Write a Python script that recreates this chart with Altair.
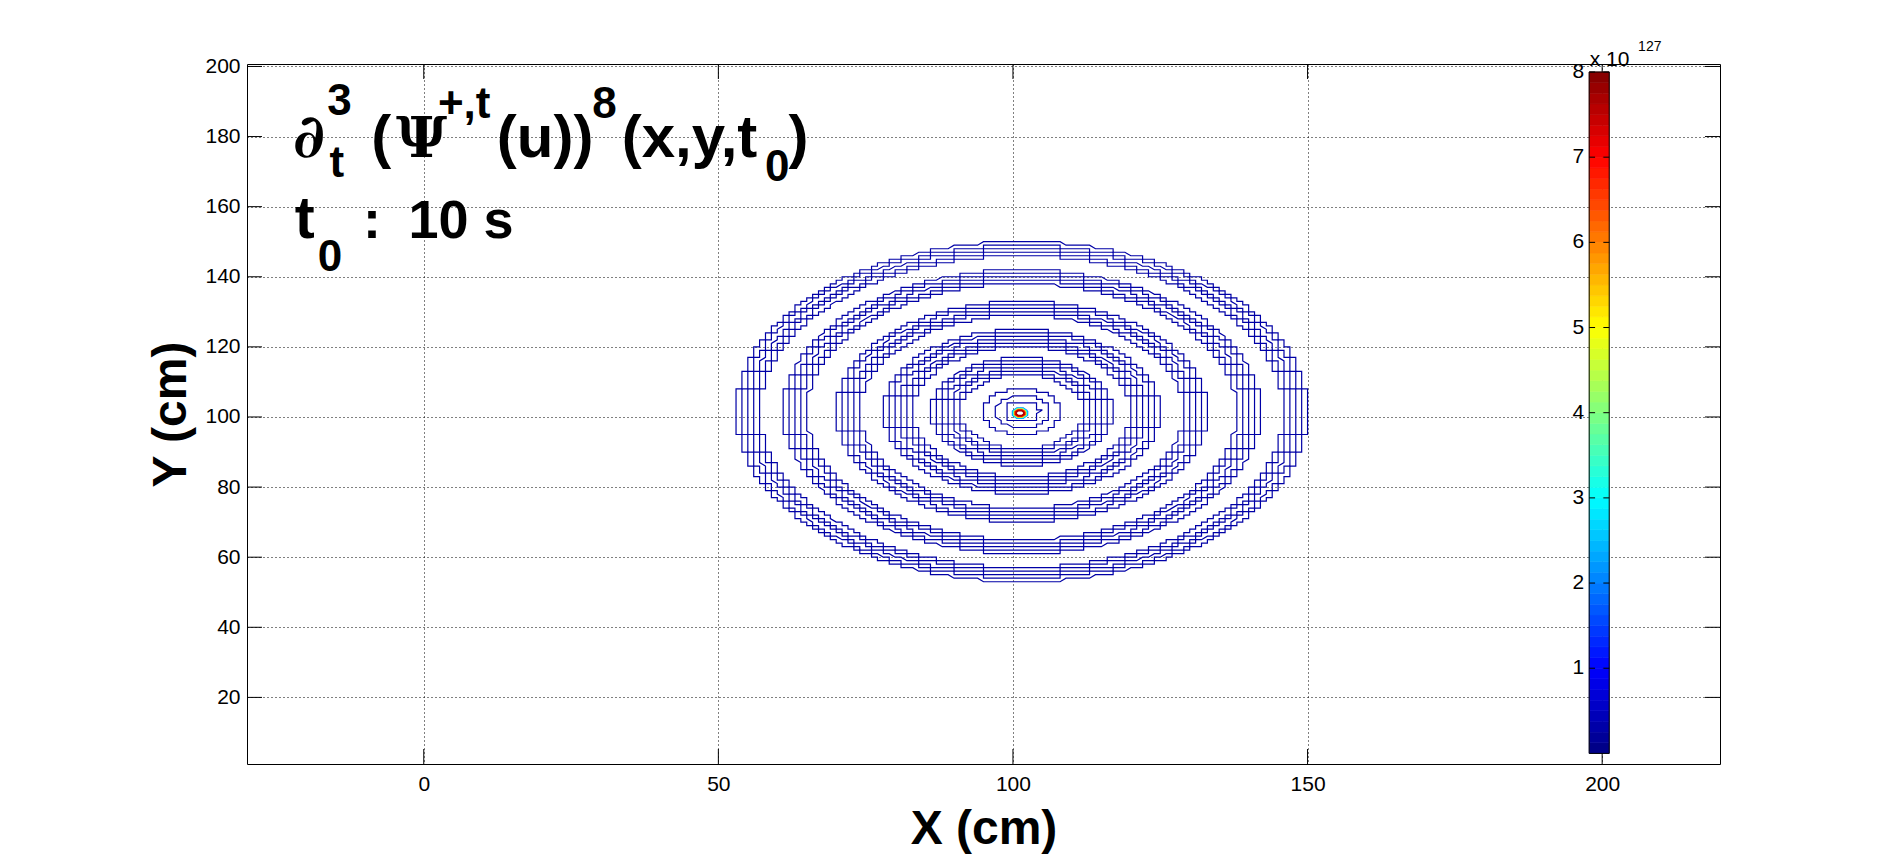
import altair as alt
import numpy as np
import pandas as pd

# ---------------- axes ----------------
X_DOMAIN = [-30, 220]
Y_DOMAIN = [1, 200.7]
X_TICKS = [0, 50, 100, 150, 200]
Y_TICKS = [20, 40, 60, 80, 100, 120, 140, 160, 180, 200]

# ---------------- contour rings ----------------
CENTER_X = 101.5
CENTER_Y = 101.5
BAND1 = [48.5, 47.5, 46.5, 45.5, 44.5]
BAND2 = [40.5, 39.5, 38.5, 37.5, 36.5]
BAND3 = [31.5, 30.5, 29.5, 28.5, 27.5]
BAND4 = [23.5, 22.5, 21.5, 20.5, 19.5, 18.5]
BAND5 = [15.5, 14.5, 13.5, 12.5, 11.5, 10.5]
BAND6 = [6.5, 4.5, 3.0]
RING_LEVEL = 0.3  # x 10^127

# peak contours at the centre
PEAK_X = 101.2
PEAK_Y = 101.1
PEAK_RX = [1.35, 1.2, 1.05, 0.95, 0.85, 0.7]
PEAK_RY = [1.5, 1.35, 1.2, 1.05, 0.95, 0.8]
PEAK_LEVELS = [2.0, 3.0, 4.4, 5.6, 6.8, 7.6]

# ---------------- colour bar ----------------
CB_MIN = 0.0
CB_MAX = 8.0
CB_STEPS = 64
CB_TICKS = [1, 2, 3, 4, 5, 6, 7, 8]
CB_X0 = 197.8
CB_X1 = 201.2
JET_DOMAIN = [0, 1, 3, 5, 7, 8]
JET_COLORS = ["#000080", "#0000ff", "#00ffff", "#ffff00", "#ff0000", "#800000"]

# ---------------- title pieces ----------------
SANS_TEXT = ["3", "t", "(", "+,t", "(u))", "8", "(x,y,t", "0", ")",
             "t", "0", ":", "10 s"]
SANS_X = [-16.4, -16.0, -8.9, 2.4, 12.4, 28.6, 33.6, 57.9, 61.9,
          -21.9, -18.0, -10.3, -2.6]
SANS_Y = [186.2, 168.6, 174.2, 185.3, 174.2, 185.3, 174.2, 167.4, 174.2,
          151.1, 141.7, 151.1, 151.1]
SANS_SIZE = [44, 44, 60, 44, 60, 44, 60, 44, 60,
             60, 44, 54, 54]
SERIF_TEXT = ["∂", "Ψ"]
SERIF_X = [-22.2, -4.7]
SERIF_Y = [174.2, 174.2]
SERIF_SIZE = [60, 56]

W, H = 1473, 700

# ---------------- build tables ----------------
def ring_points(cx, cy, rx, ry, snap, n=None):
    if n is None:
        n = int(max(64, np.ceil(2 * np.pi * max(rx, ry) * 8)))
    t = np.linspace(0, 2 * np.pi, n, endpoint=False)
    if not snap:
        t = t + np.pi / n
    xs = cx + rx * np.cos(t)
    ys = cy + ry * np.sin(t)
    if snap:
        xs = np.round(xs + 1e-9)
        ys = np.round(ys + 1e-9)
    pts = []
    for a, b in zip(xs, ys):
        if not pts or (a, b) != pts[-1]:
            pts.append((float(a), float(b)))
    if len(pts) > 1 and pts[0] == pts[-1]:
        pts.pop()
    pts.append(pts[0])
    return pts

rows = []
rid = 0
for band in [BAND1, BAND2, BAND3, BAND4, BAND5, BAND6]:
    for r in band:
        for k, (a, b) in enumerate(ring_points(CENTER_X, CENTER_Y, r, r, True)):
            rows.append({"ring": rid, "ord": k, "x": a, "y": b, "level": RING_LEVEL})
        rid += 1
rings = pd.DataFrame(rows)

prow = []
for rx, ry, lv in zip(PEAK_RX, PEAK_RY, PEAK_LEVELS):
    for k, (a, b) in enumerate(ring_points(PEAK_X, PEAK_Y, rx, ry, False, n=8)):
        prow.append({"ring": rid, "ord": k, "x": a, "y": b, "level": lv})
    rid += 1
peaks = pd.DataFrame(prow)

xs = alt.Scale(domain=X_DOMAIN, nice=False, zero=False)
ys = alt.Scale(domain=Y_DOMAIN, nice=False, zero=False)
jet = alt.Scale(domain=JET_DOMAIN, range=JET_COLORS, interpolate="rgb")
cbs = alt.Scale(domain=[CB_MIN, CB_MAX], range=[689.4, 8.0], nice=False, zero=False)

x_axis = alt.Axis(values=X_TICKS, title="X (cm)", labelPadding=9, titlePadding=11,
                  format="d")
y_axis = alt.Axis(values=Y_TICKS, title="Y (cm)", labelPadding=7, titlePadding=9,
                  format="d")

def X(f):
    return alt.X(f, type="quantitative", scale=xs, axis=x_axis)

def Y(f):
    return alt.Y(f, type="quantitative", scale=ys, axis=y_axis)

ring_layer = alt.Chart(rings).mark_line(strokeWidth=1.2, interpolate="linear").encode(
    x=X("x"), y=Y("y"), detail="ring:N", order="ord:Q",
    color=alt.Color("level:Q", scale=jet, legend=None))

peak_layer = alt.Chart(peaks).mark_line(strokeWidth=1.8).encode(
    x=X("x"), y=Y("y"), detail="ring:N", order="ord:Q",
    color=alt.Color("level:Q", scale=jet, legend=None))

xt = pd.DataFrame({"x": X_TICKS})
yt = pd.DataFrame({"y": Y_TICKS})
tick_b = alt.Chart(xt).mark_rule(color="black", strokeWidth=1).encode(
    x=X("x"), y=alt.value(H), y2=alt.value(H - 15))
tick_t = alt.Chart(xt).mark_rule(color="black", strokeWidth=1).encode(
    x=X("x"), y=alt.value(0), y2=alt.value(15))
tick_l = alt.Chart(yt).mark_rule(color="black", strokeWidth=1).encode(
    y=Y("y"), x=alt.value(0), x2=alt.value(15))
tick_r = alt.Chart(yt).mark_rule(color="black", strokeWidth=1).encode(
    y=Y("y"), x=alt.value(W), x2=alt.value(W - 15))

sans = pd.DataFrame({"x": SANS_X, "y": SANS_Y, "t": SANS_TEXT, "fs": SANS_SIZE})
serif = pd.DataFrame({"x": SERIF_X, "y": SERIF_Y, "t": SERIF_TEXT, "fs": SERIF_SIZE})
sans_layer = alt.Chart(sans).mark_text(
    font="Liberation Sans", fontWeight="bold", align="left", baseline="alphabetic",
    color="black").encode(x=X("x"), y=Y("y"), text="t:N",
                          size=alt.Size("fs:Q", scale=None))
serif_layer = alt.Chart(serif).mark_text(
    font="DejaVu Serif", fontWeight="bold", align="left", baseline="alphabetic",
    color="black").encode(x=X("x"), y=Y("y"), text="t:N",
                          size=alt.Size("fs:Q", scale=None))

main = alt.layer(ring_layer, peak_layer, tick_b, tick_t, tick_l, tick_r,
                 sans_layer, serif_layer)

# colour bar
step = (CB_MAX - CB_MIN) / CB_STEPS
bands = pd.DataFrame({
    "lo": [CB_MIN + i * step for i in range(CB_STEPS)],
    "hi": [CB_MIN + (i + 1) * step for i in range(CB_STEPS)],
    "v": [CB_MIN + (i + 0.5) * step for i in range(CB_STEPS)],
    "x0": CB_X0, "x1": CB_X1})
band_layer = alt.Chart(bands).mark_rect(strokeWidth=0.6).encode(
    x=X("x0"), x2="x1",
    y=alt.Y("lo:Q", scale=cbs, axis=None), y2="hi",
    color=alt.Color("v:Q", scale=jet, legend=None),
    stroke=alt.Stroke("v:Q", scale=jet, legend=None))

border = pd.DataFrame({"x0": [CB_X0], "x1": [CB_X1], "lo": [CB_MIN], "hi": [CB_MAX]})
border_layer = alt.Chart(border).mark_rect(filled=False, stroke="black", strokeWidth=1).encode(
    x=X("x0"), x2="x1", y=alt.Y("lo:Q", scale=cbs, axis=None), y2="hi")

cbt = pd.DataFrame({
    "v": CB_TICKS + CB_TICKS,
    "x0": [CB_X0] * len(CB_TICKS) + [CB_X1 - 1.0] * len(CB_TICKS),
    "x1": [CB_X0 + 1.0] * len(CB_TICKS) + [CB_X1] * len(CB_TICKS)})
cbt_layer = alt.Chart(cbt).mark_rule(color="black", strokeWidth=1).encode(
    x=X("x0"), x2="x1", y=alt.Y("v:Q", scale=cbs, axis=None))

cbl = pd.DataFrame({"v": CB_TICKS, "x": [CB_X0] * len(CB_TICKS),
                    "t": [str(t) for t in CB_TICKS]})
cbl_layer = alt.Chart(cbl).mark_text(
    font="Liberation Sans", fontSize=21, align="right", baseline="middle", dx=-5,
    color="black").encode(x=X("x"), y=alt.Y("v:Q", scale=cbs, axis=None), text="t:N")

EXP_TEXT = ["x 10", "127"]
EXP_X = [197.9, 206.1]
EXP_V = [8.066, 8.242]
EXP_SIZE = [21, 14]
expo = pd.DataFrame({"t": EXP_TEXT, "x": EXP_X, "v": EXP_V, "fs": EXP_SIZE})
exp_layer = alt.Chart(expo).mark_text(
    font="Liberation Sans", align="left", baseline="alphabetic", color="black").encode(
    x=X("x"), y=alt.Y("v:Q", scale=cbs, axis=None), text="t:N",
    size=alt.Size("fs:Q", scale=None))

cbar = alt.layer(band_layer, border_layer, cbt_layer, cbl_layer, exp_layer)

chart = alt.layer(main, cbar).resolve_scale(y="independent").properties(
    width=W, height=H,
    autosize=alt.AutoSizeParams(type="none"),
    padding={"left": 239, "top": 56, "right": 150, "bottom": 92},
).configure_view(stroke="black", strokeWidth=1).configure_axis(
    domain=False, ticks=False, tickSize=0, grid=True, gridColor="black",
    gridDash=[1, 3], gridWidth=1, gridOpacity=1,
    labelFont="Liberation Sans", labelFontSize=21, labelColor="black",
    titleFont="Liberation Sans", titleFontSize=48, titleFontWeight="bold",
    titleColor="black")

chart.save("out.html", embed_options={"renderer": "svg", "actions": False})
